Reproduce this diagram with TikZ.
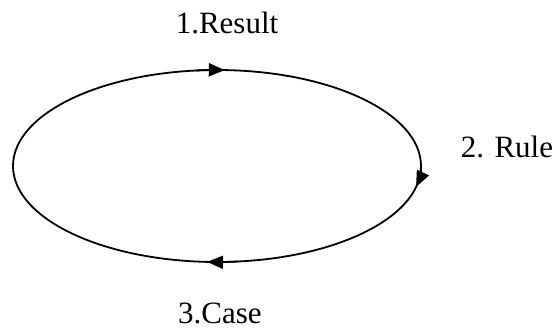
\documentclass[tikz,border=0pt]{standalone}
\usepackage{fontspec}
\setmainfont{Liberation Serif}
\usetikzlibrary{arrows.meta}
\begin{document}
\begin{tikzpicture}[x=1bp,y=1bp,
  cyc/.style={line width=1.8bp},
  tip/.style={line width=1.8bp,-{Triangle[length=16bp,width=13bp]}},
  lbl/.style={font=\fontsize{31bp}{36bp}\selectfont,anchor=base,inner sep=0pt}]
\useasboundingbox (0,0) rectangle (555,330);
\coordinate (c) at (217,164);
\draw[cyc] (c) ellipse [x radius=204, y radius=96];
\draw[tip] (c) ++(96:204 and 96) arc[start angle=96, end angle=87.8, x radius=204, y radius=96];
\draw[tip] (c) ++(2:204 and 96) arc[start angle=2, end angle=-12.6, x radius=204, y radius=96];
\draw[tip] (c) ++(-84:204 and 96) arc[start angle=-84, end angle=-92.8, x radius=204, y radius=96];
\node[lbl] (result) at (227,297) {1.Result};
\node[lbl] (rule) at (507,173) {2. Rule};
\node[lbl] (case) at (220,7) {3.Case};
\end{tikzpicture}
\end{document}
